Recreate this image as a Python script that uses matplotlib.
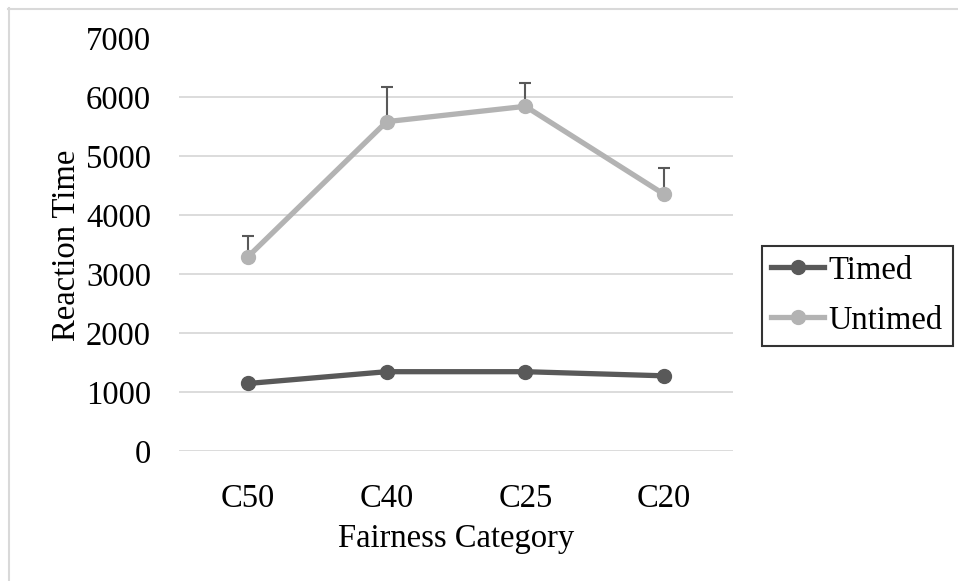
import matplotlib.pyplot as plt
from matplotlib.lines import Line2D

categories = ["C50", "C40", "C25", "C20"]
timed = [1150, 1350, 1350, 1280]
untimed = [3300, 5590, 5850, 4360]
untimed_err = [350, 580, 390, 440]
yticks = [0, 1000, 2000, 3000, 4000, 5000, 6000, 7000]

W, H = 958, 581
plt.rcParams["font.family"] = ["Liberation Serif", "DejaVu Serif"]
FS = 23.5

fig = plt.figure(figsize=(W / 100, H / 100), dpi=100)
ax = fig.add_axes([178.7 / W, 1 - 451.3 / H, 554.6 / W, 412.8 / H])

x = list(range(len(categories)))
ax.errorbar(x, untimed, yerr=[[0] * len(untimed), untimed_err], fmt="none",
            ecolor="#595959", elinewidth=1.5, capsize=4, capthick=1.5, zorder=2)
ax.plot(x, timed, color="#595959", lw=3.8, marker="o", ms=10, label="Timed", zorder=3)
ax.plot(x, untimed, color="#b3b3b3", lw=3.8, marker="o", ms=10, label="Untimed", zorder=3)

ax.set_xlim(-0.5, len(categories) - 0.5)
ax.set_ylim(0, 7000)
ax.set_yticks(yticks)
ax.set_xticks(x)
ax.set_xticklabels(categories)
ax.tick_params(axis="both", length=0, labelsize=FS)
ax.tick_params(axis="y", pad=20)
ax.tick_params(axis="x", pad=23)
ax.grid(axis="y", color="#d9d9d9", lw=1.3)
ax.set_axisbelow(True)
for s in ax.spines.values():
    s.set_visible(False)

ax.set_ylabel("Reaction Time", fontsize=FS, labelpad=3)
ax.set_xlabel("Fairness Category", fontsize=FS, labelpad=7)

leg = fig.legend(loc="center left", bbox_to_anchor=(761.7 / W, 1 - 295.6 / H),
                 fontsize=FS, frameon=True, fancybox=False, edgecolor="black",
                 handlelength=1.6, handletextpad=0.15, borderpad=0.3,
                 labelspacing=0.6, borderaxespad=0)
leg.get_frame().set_linewidth(1.5)

# light outer chart border (right/bottom edges fall outside the image)
fig.add_artist(Line2D([8.5 / W, 8.5 / W], [0, 1 - 8 / H], color="#d9d9d9", lw=1.5,
                      transform=fig.transFigure))
fig.add_artist(Line2D([8 / W, 1], [1 - 8.5 / H, 1 - 8.5 / H], color="#d9d9d9", lw=1.5,
                      transform=fig.transFigure))

fig.savefig("out.png", dpi=100, facecolor="white")
